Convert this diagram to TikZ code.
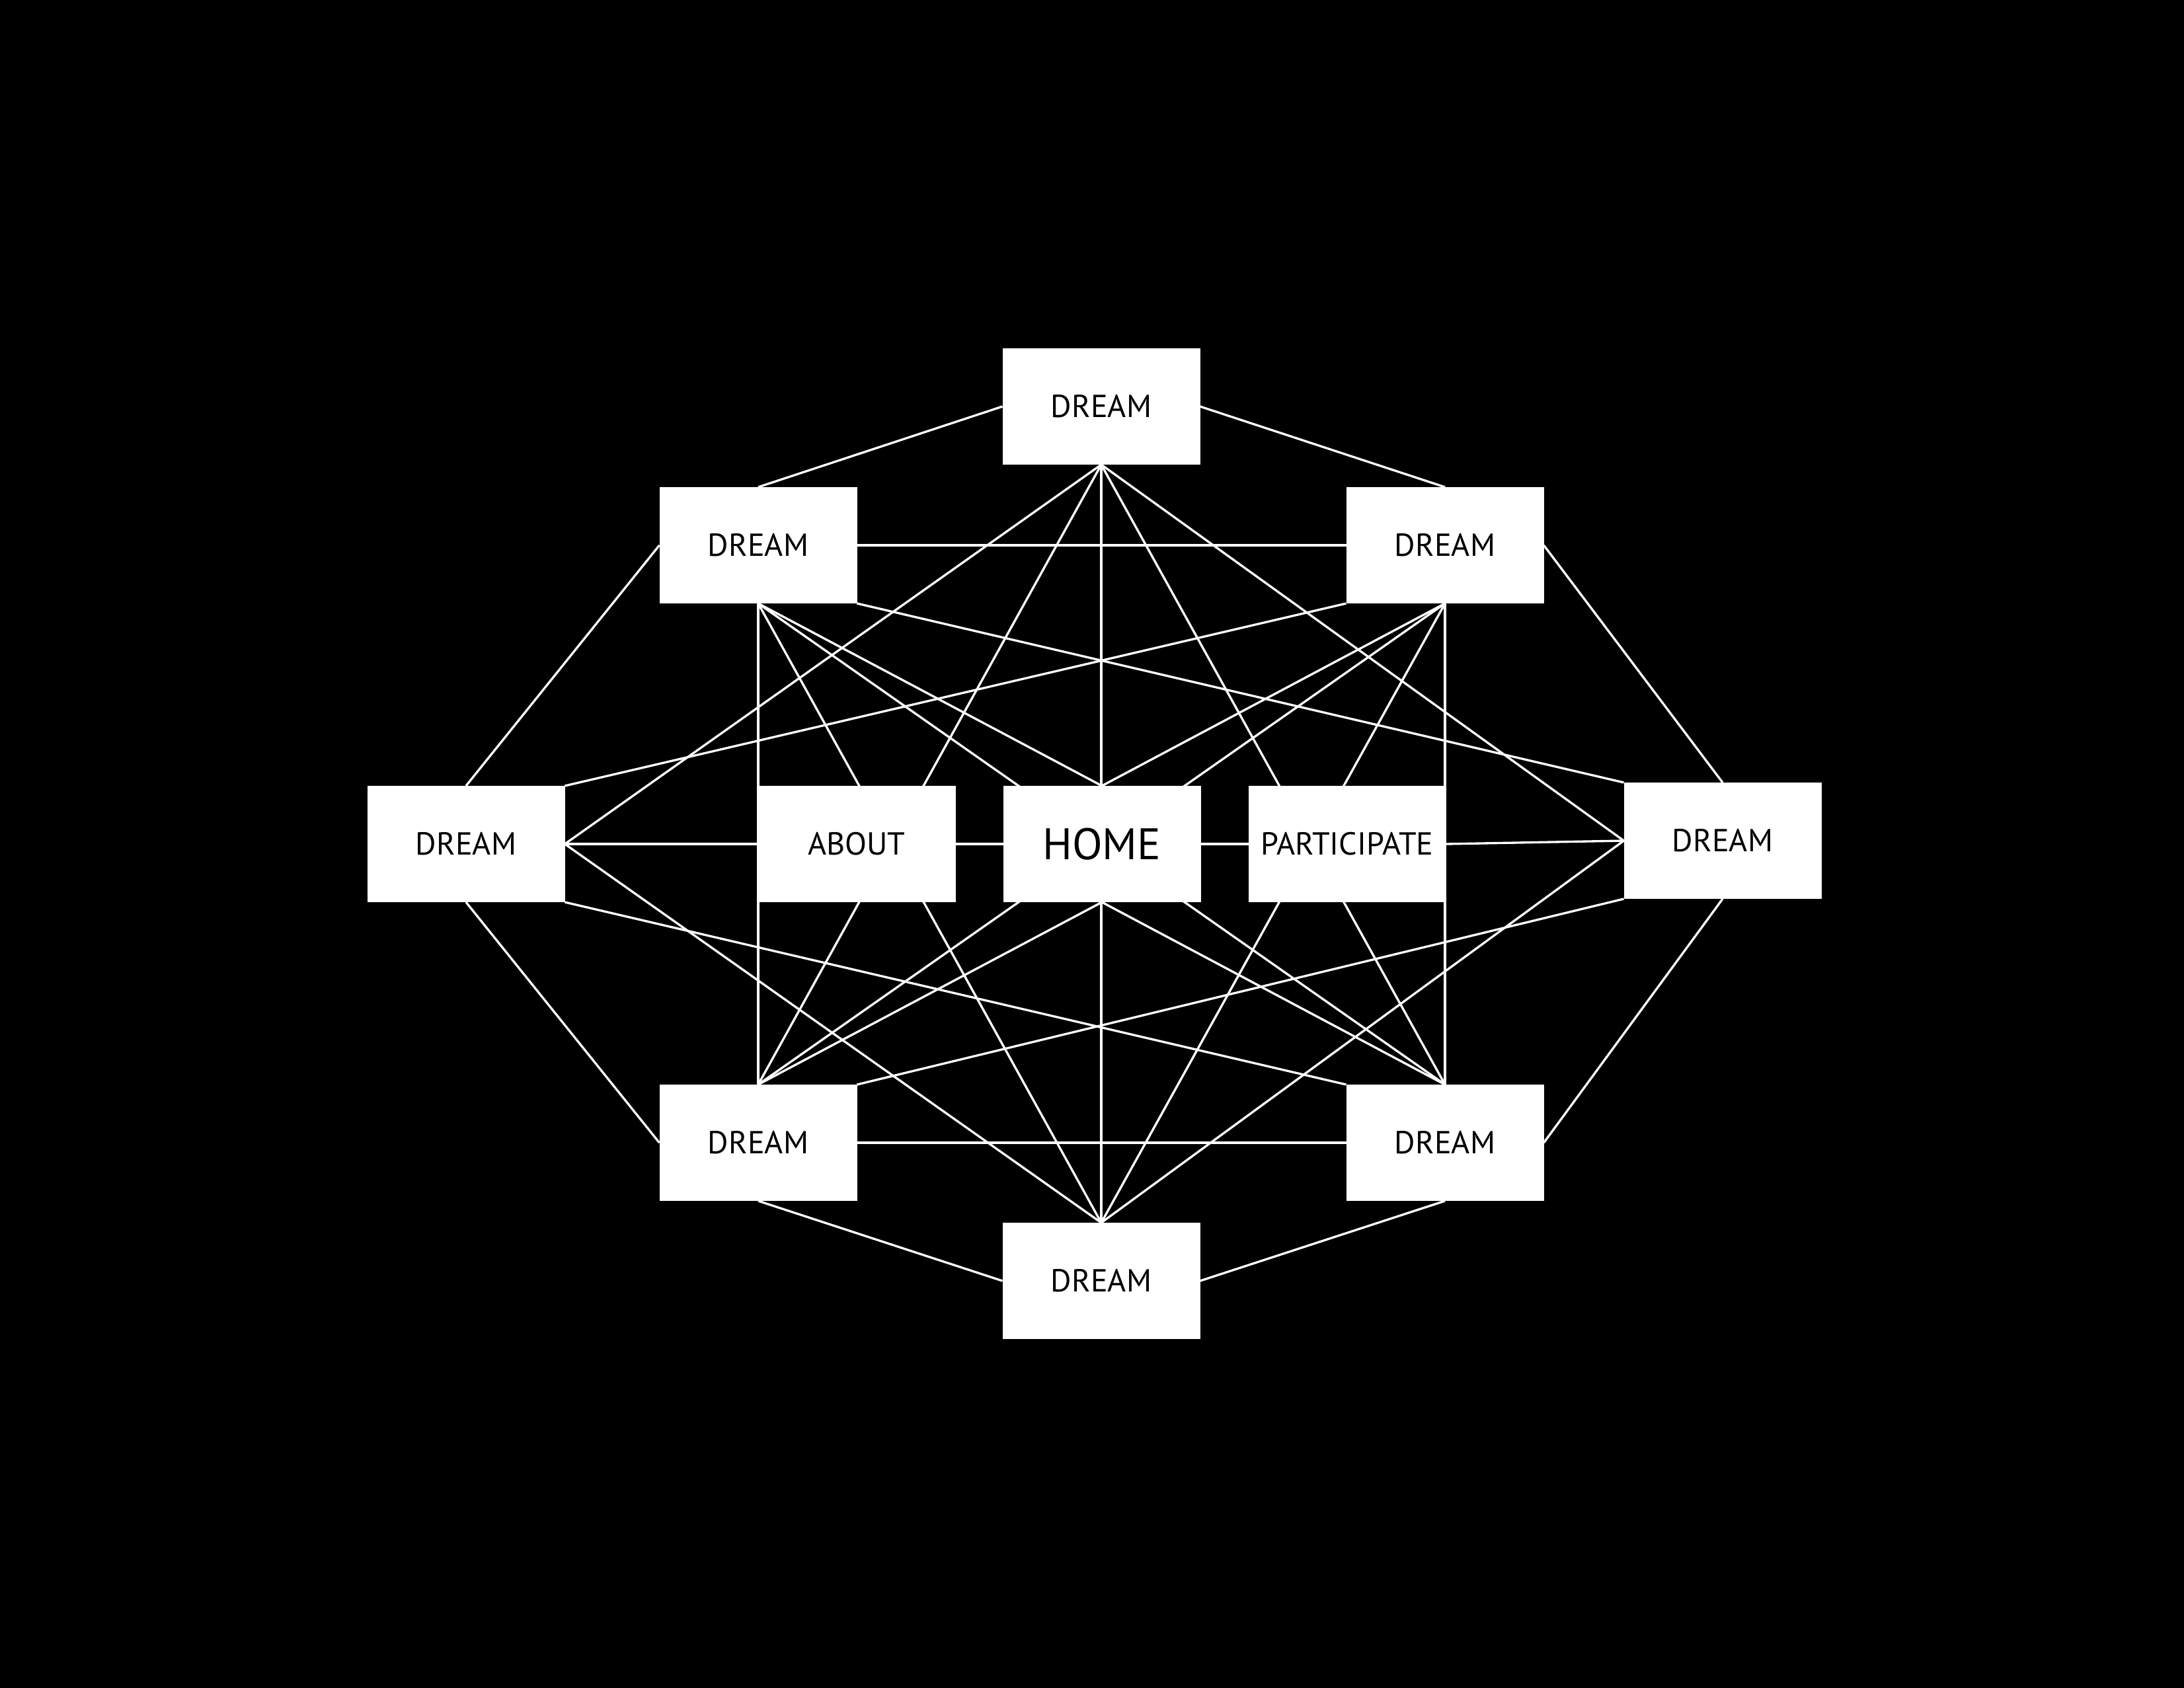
\documentclass[tikz,border=0pt]{standalone}
\usepackage{fontspec}
\setmainfont{PT Sans}
\pgfdeclarelayer{links}
\pgfsetlayers{links,main}

\begin{document}
\begin{tikzpicture}[x=1cm,y=-1cm,
  box/.style={fill=white,text=black,minimum width=2.99cm,minimum height=1.76cm,
    inner sep=0pt,outer sep=0pt,font=\fontsize{13.7}{16}\selectfont},
  link/.style={white,line width=.95pt}]
  \useasboundingbox (0,0) rectangle (33.04,25.54);

  % outer ring
  \node[box] (T)  at (16.66,6.15)  {DREAM};
  \node[box] (UL) at (11.47,8.25)  {DREAM};
  \node[box] (UR) at (21.86,8.25)  {DREAM};
  \node[box] (L)  at (7.05,12.77)  {DREAM};
  \node[box] (R)  at (26.06,12.72) {DREAM};
  \node[box] (LL) at (11.47,17.29) {DREAM};
  \node[box] (LR) at (21.86,17.29) {DREAM};
  \node[box] (B)  at (16.66,19.38) {DREAM};

  % middle row
  \node[box] (ABOUT) at (12.96,12.77) {ABOUT};
  \node[box,font=\fontsize{19}{22}\selectfont] (HOME) at (16.67,12.77) {HOME};
  \node[box] (PART)  at (20.38,12.77) {PARTICIPATE};

  \begin{pgfonlayer}{links}
    \fill[black] (0,0) rectangle (33.04,25.54);
    \foreach \a/\b in {T.west/UL.north, T.east/UR.north, T.south/L.east,
        T.south/LL.north, T.south/B.north, T.south/LR.north, T.south/R.west,
        UL.west/L.north, UL.east/UR.west, UL.south/LL.north, UL.south/B.north,
        UL.south/HOME.north, UL.south/LR.north, UL.south east/R.north west,
        UR.east/R.north, UR.south/LR.north, UR.south/B.north,
        UR.south/HOME.north, UR.south/LL.north, UR.south west/L.north east,
        L.east/ABOUT.west, ABOUT.east/HOME.west, HOME.east/PART.west,
        PART.east/R.west, L.east/B.north, L.south east/LR.north west,
        L.south/LL.west, R.west/B.north, R.south west/LL.north east,
        R.south/LR.east, LL.east/LR.west, LL.south/B.west, LR.south/B.east,
        HOME.south/LL.north, HOME.south/LR.north}
      \draw[link] (\a)--(\b);
  \end{pgfonlayer}
\end{tikzpicture}
\end{document}
